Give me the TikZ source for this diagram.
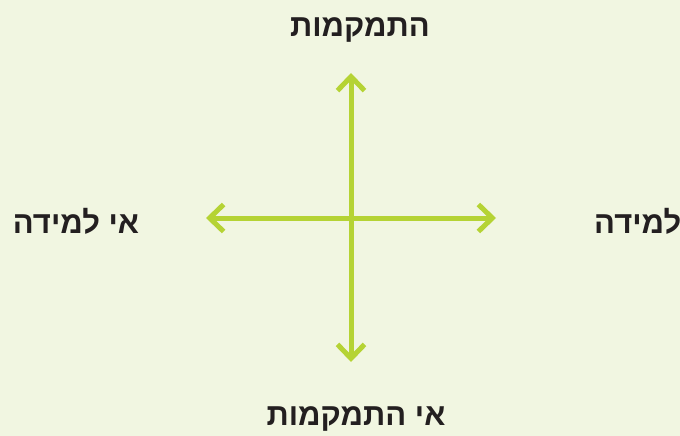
\documentclass[tikz,border=0pt]{standalone}
\usepackage{fontspec}
\usetikzlibrary{arrows.meta}
\TeXXeTstate=1
\newfontfamily\hebfont[Script=Hebrew]{Liberation Sans}
\definecolor{paper}{HTML}{F1F6E1}
\definecolor{axisgreen}{HTML}{B5D334}
\definecolor{ink}{HTML}{231F20}

\begin{document}
\begin{tikzpicture}[
  x=1pt,
  y=-1pt,
  axis/.style={draw=axisgreen, line width=5pt,
    -{Straight Barb[length=14pt,width=27pt,line cap=butt]}},
  label/.style={text=ink, font=\hebfont\bfseries\fontsize{31}{34}\selectfont, inner sep=0pt}
]
  % Background and frame.
  \fill[paper] (0,0) rectangle (680,436);
  \useasboundingbox (0,0) rectangle (680,436);

  % Axis ends.
  \coordinate (centre) at (351,218);
  \coordinate (up) at (351,73);
  \coordinate (down) at (351,362);
  \coordinate (left) at (206,218);
  \coordinate (right) at (496,218);

  % Arrows.
  \draw[axis] (centre) -- (up);
  \draw[axis] (centre) -- (down);
  \draw[axis] (centre) -- (left);
  \draw[axis] (centre) -- (right);

  % Labels.
  \node[label] (focus) at (360,30) {\beginR התמקמות\endR};
  \node[label] (nofocus) at (356,419) {\beginR אי התמקמות\endR};
  \node[label] (nolearn) at (76,221) {\beginR אי למידה\endR};
  \node[label,anchor=west] (learn) at (594,221) {\beginR למידה\endR};
\end{tikzpicture}
\end{document}
